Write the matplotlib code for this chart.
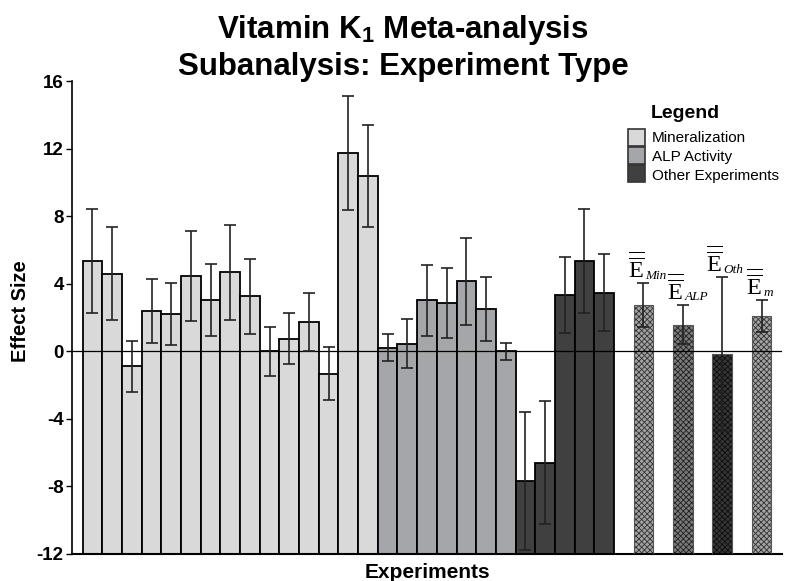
import matplotlib
matplotlib.use("Agg")
import matplotlib.pyplot as plt
from matplotlib.patches import Rectangle
import numpy as np

plt.rcParams['font.family'] = ['Liberation Sans', 'DejaVu Sans']
plt.rcParams['mathtext.fontset'] = 'custom'
plt.rcParams['mathtext.rm'] = 'Liberation Serif'
plt.rcParams['mathtext.it'] = 'Liberation Serif:italic'
plt.rcParams['mathtext.bf'] = 'Liberation Sans:bold'

# ---- data ----
min_vals = [5.34, 4.60, -0.89, 2.39, 2.19, 4.46, 3.02, 4.67, 3.25, 0.0, 0.75, 1.74, -1.32, 11.73, 10.36]
min_err = [3.06, 2.73, 1.51, 1.88, 1.83, 2.68, 2.12, 2.79, 2.20, 1.45, 1.50, 1.70, 1.56, 3.38, 3.03]
alp_vals = [0.22, 0.45, 3.02, 2.88, 4.14, 2.49, 0.0]
alp_err = [0.79, 1.45, 2.10, 2.07, 2.57, 1.90, 0.52]
oth_vals = [-7.67, -6.59, 3.33, 5.34, 3.47]
oth_err = [4.10, 3.62, 2.23, 3.07, 2.29]
summary_labels = ['Min', 'ALP', 'Oth', 'm']
summary_vals = [2.72, 1.58, -0.18, 2.07]
summary_err = [1.30, 1.16, 4.55, 0.95]
legend_labels = ['Mineralization', 'ALP Activity', 'Other Experiments']
yticks = [-12, -8, -4, 0, 4, 8, 12, 16]

# ---- style ----
c_min, c_alp, c_oth = '#d9d9d9', '#a4a6a9', '#404040'
sum_face = ['#a2a2a2', '#7a7a7a', '#363636', '#a2a2a2']
sum_hatch = ['#333333', '#222222', '#0e0e0e', '#333333']
base = -12

W, H = 785, 581
fig = plt.figure(figsize=(W / 100, H / 100), dpi=100)
ax = fig.add_axes([72 / W, 1 - 554 / H, 710 / W, 473 / H])

def px(x):
    return x / W

def py(y):
    return 1 - y / H

n1, n2, n3 = len(min_vals), len(alp_vals), len(oth_vals)
x_min = np.arange(n1)
x_alp = np.arange(n1, n1 + n2)
x_oth = np.arange(n1 + n2, n1 + n2 + n3)
start = n1 + n2 + n3 + 1
x_sum = start + 2 * np.arange(len(summary_vals))

ekw = dict(ecolor='#222222', elinewidth=1.2, capsize=4, capthick=1.2, fmt='none', zorder=4)

for xs, vals, errs, col in [(x_min, min_vals, min_err, c_min),
                            (x_alp, alp_vals, alp_err, c_alp),
                            (x_oth, oth_vals, oth_err, c_oth)]:
    v = np.array(vals)
    ax.bar(xs, v - base, bottom=base, width=1.0, color=col, edgecolor='black', linewidth=1.3, zorder=2)
    ax.errorbar(xs, v, yerr=errs, **ekw)

sv = np.array(summary_vals)
plt.rcParams['hatch.linewidth'] = 0.6
for i in range(len(sv)):
    ax.bar(x_sum[i], sv[i] - base, bottom=base, width=1.0, color=sum_face[i],
           edgecolor=sum_hatch[i], hatch='xxxxxx', linewidth=0, zorder=2)
    ax.bar(x_sum[i], sv[i] - base, bottom=base, width=1.0, fill=False,
           edgecolor='#555555', linewidth=0.8, zorder=3)
ax.errorbar(x_sum, sv, yerr=summary_err, **ekw)

for i, lab in enumerate(summary_labels):
    ytop = sv[i] + summary_err[i] + 0.32
    ax.text(x_sum[i] + 0.05, ytop, r'$\overline{\overline{\mathrm{E}}}$',
            ha='right', va='baseline', fontsize=17.5, zorder=5)
    ax.text(x_sum[i] + 0.08, ytop - 0.05, lab, ha='left', va='baseline', fontsize=9.5,
            family='Liberation Serif', style='italic', zorder=5)

ax.axhline(0, color='black', linewidth=0.9, zorder=3)

ax.set_xlim(-1.04, x_sum[-1] + 1.04)
ax.set_ylim(-12, 16)
ax.set_yticks(yticks)
ax.set_yticklabels([str(t) for t in yticks], fontsize=13.5, fontweight='bold')
ax.set_xticks([])
ax.tick_params(axis='y', length=4, width=1, pad=2)
for s in ['top', 'right']:
    ax.spines[s].set_visible(False)
ax.spines['left'].set_linewidth(1.2)
ax.spines['bottom'].set_linewidth(1.5)

fig.text(px(21), py(311), 'Effect Size', rotation=90, ha='center', va='center',
         fontsize=14.5, fontweight='bold')
fig.text(px(427), py(572), 'Experiments', ha='center', va='center',
         fontsize=15, fontweight='bold')

fig.text(px(403), py(30), r'Vitamin K$_\mathbf{1}$ Meta-analysis', ha='center', va='center',
         fontsize=22.5, fontweight='bold')
fig.text(px(403), py(67), 'Subanalysis: Experiment Type', ha='center', va='center',
         fontsize=22.5, fontweight='bold')

# legend
fig.text(px(651), py(113), 'Legend', ha='left', va='center', fontsize=14, fontweight='bold')
for i, (lab, col) in enumerate(zip(legend_labels, [c_min, c_alp, c_oth])):
    y0 = 129 + i * 18
    fig.patches.append(Rectangle((px(628), py(y0 + 16.5)), px(17), 16.5 / H,
                                 transform=fig.transFigure, facecolor=col,
                                 edgecolor='#333333', linewidth=1.2))
    fig.text(px(652), py(138 + i * 19), lab, ha='left', va='center', fontsize=11)

fig.savefig('out.png', dpi=100)
